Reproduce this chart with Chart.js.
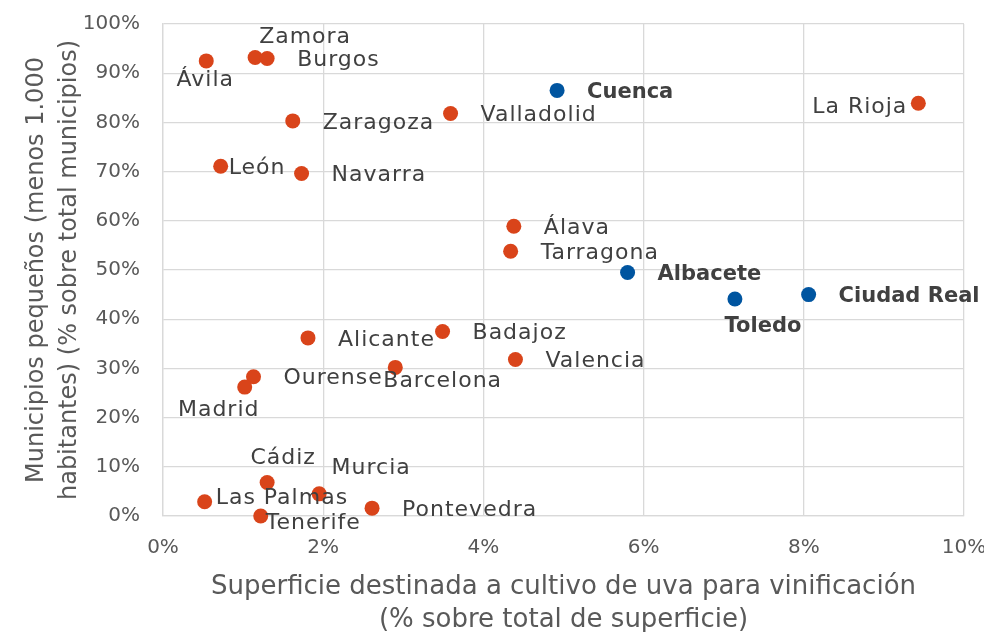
<!DOCTYPE html>
<html><head><meta charset="utf-8">
<script src="https://cdn.jsdelivr.net/npm/chart.js@4"></script>
<style>html,body{margin:0;padding:0;background:#fff}#wrap{width:984px;height:632px}</style>
</head><body><div id="wrap"><canvas id="c" width="984" height="632"></canvas></div>
<script>
// ---- data ----
const otherNames = ['Ávila','Zamora','Burgos','Zaragoza','Valladolid','León','Navarra','La Rioja','Álava','Tarragona','Badajoz','Valencia','Alicante','Barcelona','Ourense','Madrid','Cádiz','Murcia','Las Palmas','Pontevedra','Tenerife'];
const otherX = [0.54,1.15,1.30,1.62,3.59,0.72,1.73,9.43,4.38,4.34,3.49,4.40,1.81,2.90,1.13,1.02,1.30,1.95,0.52,2.61,1.22];
const otherY = [92.5,93.2,93.0,80.3,81.8,71.1,69.6,83.9,58.9,53.8,37.5,31.8,36.2,30.2,28.3,26.2,6.8,4.5,2.9,1.6,0.0];
const clmNames = ['Cuenca','Albacete','Toledo','Ciudad Real'];
const clmX = [4.92,5.80,7.14,8.06];
const clmY = [86.5,49.5,44.1,45.0];
const xTicks = [0,2,4,6,8,10];
const yTicks = [0,10,20,30,40,50,60,70,80,90,100];
const xTitle = ['Superficie destinada a cultivo de uva para vinificación','(% sobre total de superficie)'];
const yTitle = ['Municipios pequeños (menos 1.000','habitantes) (% sobre total municipios)'];

// ---- label placement (styling, not data) ----
const labelPos = {
  'Ávila':{dx:-1,dy:19,align:'center'},
  'Zamora':{dx:50,dy:-20,align:'center'},
  'Toledo':{dx:28,dy:28,align:'center'},
  'Madrid':{dx:-26,dy:23,align:'center'},
  'Cádiz':{dx:16,dy:-24,align:'center'},
  'Murcia':{dx:52,dy:-26,align:'center'},
  'Barcelona':{dx:-12,dy:14,align:'left'},
  'La Rioja':{dx:-11,dy:4,align:'right'},
  'León':{dx:8,dy:2,align:'left'},
  'Las Palmas':{dx:11,dy:-3,align:'left'},
  'Tenerife':{dx:5,dy:7,align:'left'}
};
const FONT = '"DejaVu Sans", sans-serif';

const pts = (xs, ys) => xs.map((x, i) => ({x: x, y: ys[i]}));

const labelPlugin = {
  id: 'pointLabels',
  afterDatasetsDraw(chart) {
    const ctx = chart.ctx;
    chart.data.datasets.forEach((ds, di) => {
      const meta = chart.getDatasetMeta(di);
      meta.data.forEach((pt, i) => {
        const name = ds.names[i];
        const o = labelPos[name] || {dx:30, dy:2, align:'left'};
        ctx.save();
        if (ds.boldLabels) {
          ctx.font = 'bold 21px ' + FONT;
          ctx.letterSpacing = '0px';
          ctx.fillStyle = '#404040';
        } else {
          ctx.font = '22px ' + FONT;
          ctx.letterSpacing = '1px';
          ctx.fillStyle = '#404040';
        }
        ctx.textAlign = o.align;
        ctx.textBaseline = 'middle';
        ctx.fillText(name, pt.x + o.dx, pt.y + o.dy);
        ctx.restore();
      });
    });
  }
};

new Chart(document.getElementById('c'), {
  type: 'scatter',
  data: {
    datasets: [
      {label:'Resto', names: otherNames, data: pts(otherX, otherY), backgroundColor:'#D9441A', borderColor:'#D9441A', pointRadius:7.5, pointHoverRadius:7.5, borderWidth:0, clip:false},
      {label:'Castilla-La Mancha', names: clmNames, boldLabels:true, data: pts(clmX, clmY), backgroundColor:'#0055A0', borderColor:'#0055A0', pointRadius:7.5, pointHoverRadius:7.5, borderWidth:0, clip:false}
    ]
  },
  options: {
    responsive:false, animation:false,
    layout:{padding:{left:0,right:20,top:24,bottom:0}},
    plugins:{legend:{display:false}, tooltip:{enabled:false}},
    scales:{
      x:{type:'linear', min:0, max:10,
        afterBuildTicks: s => { s.ticks = xTicks.map(v => ({value:v})); },
        afterFit: s => { s.height = 116; s.paddingLeft = 0; s.paddingRight = 0; },
        ticks:{callback: v => v + '%', color:'#595959', font:{family:FONT, size:20}, padding:20, maxRotation:0},
        grid:{color:'#D9D9D9', lineWidth:1.3, drawTicks:false},
        border:{color:'#D9D9D9', width:1.3},
        title:{display:true, text:xTitle, color:'#595959', font:{family:FONT, size:26, lineHeight:1.25}, padding:{top:0,bottom:-4}}
      },
      y:{type:'linear', min:0, max:100,
        afterBuildTicks: s => { s.ticks = yTicks.map(v => ({value:v})); },
        afterFit: s => { s.width = 163; s.paddingTop = 0; s.paddingBottom = 0; },
        ticks:{callback: v => v + '%', color:'#595959', font:{family:FONT, size:20}, padding:23},
        grid:{color:'#D9D9D9', lineWidth:1.3, drawTicks:false},
        border:{color:'#D9D9D9', width:1.3},
        title:{display:true, text:yTitle, color:'#595959', font:{family:FONT, size:24, lineHeight:1.375}, padding:{top:20.5,bottom:0}}
      }
    }
  },
  plugins:[labelPlugin]
});
</script>
</body></html>
